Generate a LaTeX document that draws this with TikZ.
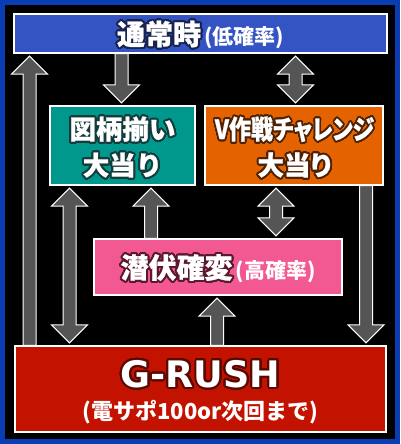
\documentclass[tikz,border=0pt]{standalone}
\usepackage{fontspec}
\usepackage{contour}
\usetikzlibrary{calc}
\newfontfamily\jp{Noto Sans CJK JP}[BoldFeatures={FakeBold=0.8}]
\newfontfamily\jpp{Noto Sans CJK JP}[RawFeature=+palt,BoldFeatures={FakeBold=0.8}]
\newfontfamily\jpm{Noto Sans CJK JP}
\newfontfamily\gfont{DejaVu Sans}
\contourlength{1.9pt}
\contournumber{40}
\definecolor{outerblue}{RGB}{10,60,180}
\definecolor{topblue}{RGB}{52,84,196}
\definecolor{tealbox}{RGB}{0,152,140}
\definecolor{orangebox}{RGB}{228,98,0}
\definecolor{pinkbox}{RGB}{242,88,146}
\definecolor{redbox}{RGB}{196,18,0}
\definecolor{arrowgray}{RGB}{85,85,85}
\definecolor{olnavy}{RGB}{25,35,80}
\definecolor{olteal}{RGB}{20,60,60}
\definecolor{olbrown}{RGB}{80,35,5}
\definecolor{olmaroon}{RGB}{90,25,45}
\definecolor{olred}{RGB}{90,10,5}
\tikzset{
  box/.style={draw=white, line width=1.2pt, inner sep=0pt},
  lbl/.style={text=white, align=center, inner sep=0pt},
  blk/.style={fill=arrowgray, draw=white, line width=1pt, line join=miter},
}
% up arrow: x centre, tail anchor (lower box), tip anchor (upper box)
\newcommand\arrUp[3]{\draw[blk] let \p1=(#2), \p2=(#3) in
 (#1pt-6.5pt,\y1) -- (#1pt-6.5pt,\y2-20.5pt) -- (#1pt-18pt,\y2-20.5pt) -- (#1pt,\y2-2.5pt)
 -- (#1pt+18pt,\y2-20.5pt) -- (#1pt+6.5pt,\y2-20.5pt) -- (#1pt+6.5pt,\y1) -- cycle;}
% down arrow: x centre, tail anchor (upper box), tip anchor (lower box)
\newcommand\arrDown[3]{\draw[blk] let \p1=(#2), \p2=(#3) in
 (#1pt-6.5pt,\y1) -- (#1pt-6.5pt,\y2+20.5pt) -- (#1pt-18pt,\y2+20.5pt) -- (#1pt,\y2+2.5pt)
 -- (#1pt+18pt,\y2+20.5pt) -- (#1pt+6.5pt,\y2+20.5pt) -- (#1pt+6.5pt,\y1) -- cycle;}
% double arrow: x centre, upper box anchor, lower box anchor
\newcommand\arrBoth[3]{\draw[blk] let \p1=(#2), \p2=(#3) in
 (#1pt,\y1-2.5pt) -- (#1pt+18pt,\y1-20.5pt) -- (#1pt+6.5pt,\y1-20.5pt) -- (#1pt+6.5pt,\y2+20.5pt)
 -- (#1pt+18pt,\y2+20.5pt) -- (#1pt,\y2+2.5pt) -- (#1pt-18pt,\y2+20.5pt) -- (#1pt-6.5pt,\y2+20.5pt)
 -- (#1pt-6.5pt,\y1-20.5pt) -- (#1pt-18pt,\y1-20.5pt) -- cycle;}
\begin{document}
\begin{tikzpicture}[x=1pt,y=1pt]
\useasboundingbox (0,0) rectangle (400,444);
\fill[outerblue] (0,0) rectangle (400,444);
\fill[black] (5,4.5) rectangle (395,439);

\node[box, fill=topblue, minimum width=373pt, minimum height=39pt] (top) at (200.5,410.5) {};
\node[box, fill=tealbox, minimum width=145pt, minimum height=79pt] (left) at (122.5,298.5) {};
\node[box, fill=orangebox, minimum width=178pt, minimum height=79pt] (right) at (294,298.5) {};
\node[box, fill=pinkbox, minimum width=248pt, minimum height=56pt] (pink) at (218,177) {};
\node[box, fill=redbox, minimum width=371pt, minimum height=86pt] (grush) at (200.5,55) {};

\node[lbl, font=\jp\bfseries\fontsize{28}{30}\selectfont] (toptext) at (200.5,409)
  {\contour{olnavy}{通常時}\hspace{3pt}\jpm\bfseries\fontsize{21}{22}\selectfont(低確率)};
\node[lbl, font=\jp\bfseries\fontsize{26.5}{36}\selectfont] (lefttext) at (122.5,296)
  {\contour{olteal}{図柄揃い}\\\contour{olteal}{大当り}};
\node[lbl, font=\jpp\bfseries\fontsize{26.5}{36}\selectfont] (righttext) at (294.5,296)
  {\scalebox{0.83}[1]{\contour{olbrown}{V作戦チャレンジ}}\\\contour{olbrown}{大当り}};
\node[lbl, font=\jp\bfseries\fontsize{28}{30}\selectfont] (pinktext) at (218,175.5)
  {\contour{olmaroon}{潜伏確変}\hspace{3pt}\jpm\bfseries\fontsize{21}{22}\selectfont(高確率)};
\node[lbl, font=\gfont\bfseries\fontsize{36.5}{38}\selectfont] (gtext) at (200.5,69)
  {\contour{olred}{G-RUSH}};
\node[lbl, font=\jpm\bfseries\fontsize{22}{24}\selectfont] (gsub) at (200.5,32)
  {(電サポ100or次回まで)};

\arrUp{29.5}{grush.north}{top.south}
\arrDown{121.5}{top.south}{left.north}
\arrBoth{295.5}{top.south}{right.north}
\arrBoth{69.5}{left.south}{grush.north}
\arrUp{151}{pink.north}{left.south}
\arrBoth{276}{right.south}{pink.north}
\arrUp{217}{grush.north}{pink.south}
\arrDown{366}{right.south}{grush.north}
\end{tikzpicture}
\end{document}
